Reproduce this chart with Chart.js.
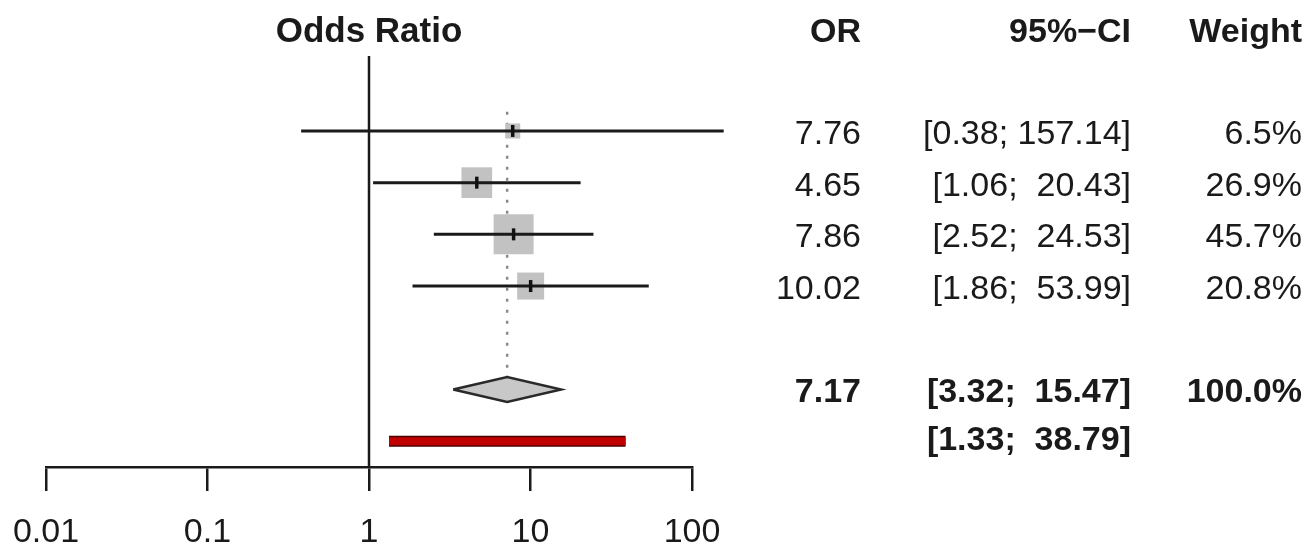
<!DOCTYPE html>
<html>
<head>
<meta charset="utf-8">
<script src="https://cdn.jsdelivr.net/npm/chart.js@4.4.1/dist/chart.umd.min.js"></script>
<style>
    html, body { margin: 0; padding: 0; background: #fff; }
    #wrap { width: 1311px; height: 548px; }
</style>
</head>
<body>
<div id="wrap"><canvas id="forest"></canvas></div>
<script>
// study level results
const orValues = [7.76, 4.65, 7.86, 10.02];
const ciLower = [0.38, 1.06, 2.52, 1.86];
const ciUpper = [157.14, 20.43, 24.53, 53.99];
const weights = [6.5, 26.9, 45.7, 20.8];

// pooled estimate + prediction interval
const pooledOR = 7.17;
const pooledLower = 3.32;
const pooledUpper = 15.47;
const pooledWeight = 100.0;
const predLower = 1.33;
const predUpper = 38.79;

const xTicks = [0.01, 0.1, 1, 10, 100];
const xTickLabels = ["0.01", "0.1", "1", "10", "100"];
const headers = ["OR", "95%\u2212CI", "Weight"];

const FONT = '"Liberation Sans", Arial, sans-serif';
Chart.defaults.font.family = FONT;
Chart.defaults.color = "#1a1a1a";

const pooledRow = orValues.length + 2;
const predRow = pooledRow + 1;
const yMin = -0.45;
const yMax = predRow + 0.5;
const diamondHalf = 0.24;
const maxSide = 40;
const maxW = Math.max(...weights);

const fmtCI = (lo, hi) => "[" + lo.toFixed(2) + "; " + hi.toFixed(2).padStart(6, " ") + "]";

const lineDs = (points, color, width, order, extra) => Object.assign({
    data: points,
    showLine: true,
    pointRadius: 0,
    borderColor: color,
    borderWidth: width,
    borderCapStyle: "butt",
    fill: false,
    clip: false,
    order: order,
}, extra || {});

const datasets = [];

// line of no effect
datasets.push(lineDs([{ x: 1, y: yMin }, { x: 1, y: yMax }], "#1a1a1a", 2.5, 9));

// dotted line at pooled estimate
datasets.push(lineDs([{ x: pooledOR, y: 0.63 }, { x: pooledOR, y: pooledRow - diamondHalf }],
    "#8a8a8a", 2.5, 8, { borderDash: [3, 8] }));

// weight squares
datasets.push({
    data: orValues.map((v, i) => ({ x: v, y: i + 1 })),
    pointStyle: "rect",
    pointRadius: weights.map((w) => (maxSide * Math.sqrt(w / maxW)) / Math.SQRT2),
    pointBackgroundColor: "#c2c2c2",
    pointBorderWidth: 0,
    clip: false,
    order: 7,
});

// confidence intervals
orValues.forEach((v, i) => {
    datasets.push(lineDs([{ x: ciLower[i], y: i + 1 }, { x: ciUpper[i], y: i + 1 }], "#1a1a1a", 3, 6));
});

// point estimate markers
datasets.push({
    data: orValues.map((v, i) => ({ x: v, y: i + 1 })),
    pointStyle: "line",
    rotation: 90,
    pointRadius: 6,
    pointBorderWidth: 3.5,
    pointBorderColor: "#111",
    clip: false,
    order: 5,
});

// pooled diamond
datasets.push(lineDs([
    { x: pooledLower, y: pooledRow },
    { x: pooledOR, y: pooledRow - diamondHalf },
    { x: pooledUpper, y: pooledRow },
    { x: pooledOR, y: pooledRow + diamondHalf },
    { x: pooledLower, y: pooledRow },
], "#2a2a2a", 2.5, 4, { fill: "shape", backgroundColor: "#c8c8c8", borderJoinStyle: "miter" }));

// prediction interval bar
datasets.push(lineDs([{ x: predLower, y: predRow }, { x: predUpper, y: predRow }], "#4a0000", 11, 3));
datasets.push(lineDs([{ x: predLower, y: predRow }, { x: predUpper, y: predRow }], "#c00000", 8, 2));

const tablePlugin = {
    id: "forestTable",
    afterDraw(chart) {
        const { ctx, chartArea } = chart;
        const y = chart.scales.y;
        const font = (bold) => (bold ? "bold " : "") + "34px " + FONT;
        const cols = [861, 1131, 1302];
        ctx.save();
        ctx.fillStyle = "#1a1a1a";
        ctx.textBaseline = "alphabetic";

        const headY = y.getPixelForValue(-1) + 14;
        ctx.font = "bold 35px " + FONT;
        ctx.textAlign = "center";
        ctx.fillText("Odds Ratio", (chartArea.left + chartArea.right) / 2, headY);
        ctx.font = font(true);
        ctx.textAlign = "right";
        headers.forEach((h, i) => ctx.fillText(h, cols[i], headY));

        ctx.font = font(false);
        orValues.forEach((v, i) => {
            const py = y.getPixelForValue(i + 1) + 13;
            ctx.fillText(v.toFixed(2), cols[0], py);
            ctx.fillText(fmtCI(ciLower[i], ciUpper[i]), cols[1], py);
            ctx.fillText(weights[i].toFixed(1) + "%", cols[2], py);
        });

        ctx.font = font(true);
        let py = y.getPixelForValue(pooledRow) + 13;
        ctx.fillText(pooledOR.toFixed(2), cols[0], py);
        ctx.fillText(fmtCI(pooledLower, pooledUpper), cols[1], py);
        ctx.fillText(pooledWeight.toFixed(1) + "%", cols[2], py);
        py = y.getPixelForValue(predRow) + 9;
        ctx.fillText(fmtCI(predLower, predUpper), cols[1], py);
        ctx.restore();
    },
};

new Chart(document.getElementById("forest"), {
    type: "scatter",
    data: { datasets: datasets },
    plugins: [tablePlugin],
    options: {
        responsive: true,
        maintainAspectRatio: false,
        animation: false,
        events: [],
        layout: { padding: { left: 46, right: 619, top: 56, bottom: 0 } },
        plugins: { legend: { display: false }, tooltip: { enabled: false } },
        scales: {
            x: {
                type: "logarithmic",
                min: 0.01,
                max: 100,
                afterBuildTicks: (scale) => {
                    scale.ticks = xTicks.map((v) => ({ value: v }));
                },
                afterFit: (scale) => {
                    scale.height = 81;
                    scale.paddingLeft = 0;
                    scale.paddingRight = 0;
                },
                grid: { drawOnChartArea: false, drawTicks: true, tickLength: 24, color: "#1a1a1a", lineWidth: 2.5 },
                border: { display: true, color: "#1a1a1a", width: 2.5 },
                ticks: {
                    autoSkip: false,
                    maxRotation: 0,
                    padding: 25,
                    color: "#1a1a1a",
                    font: { size: 34, lineHeight: 1 },
                    callback: (v, i) => xTickLabels[i],
                },
            },
            y: {
                type: "linear",
                display: false,
                reverse: true,
                min: yMin,
                max: yMax,
            },
        },
    },
});
</script>
</body>
</html>
